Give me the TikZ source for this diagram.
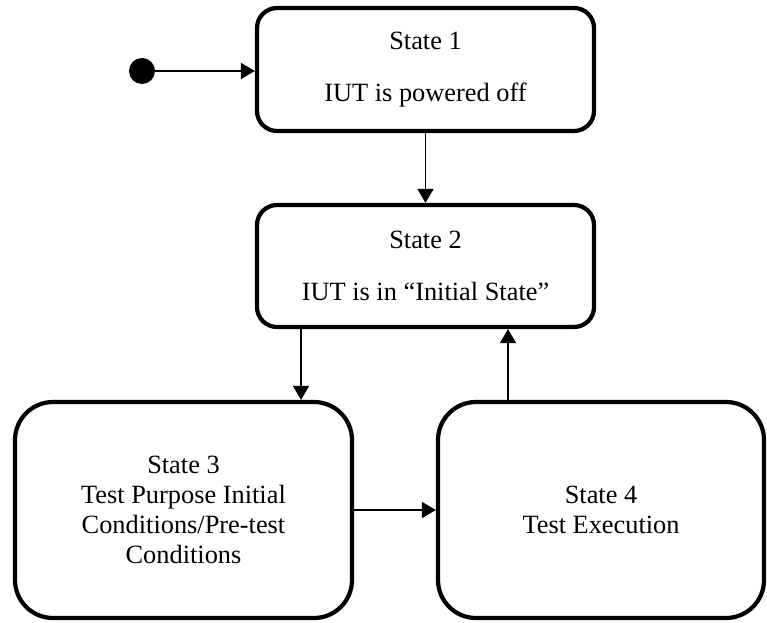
\documentclass[tikz,border=0pt]{standalone}
\usepackage{fontspec}
\setmainfont{Liberation Serif}
\usetikzlibrary{arrows.meta}
\begin{document}
\begin{tikzpicture}[
	state/.style={draw, line width=2.4pt, rounded corners=0.4cm, align=center, inner sep=0pt, font=\fontsize{15}{17}\selectfont},
	bigstate/.style={state, rounded corners=0.76cm},
	trans/.style={-{Triangle[length=0.28cm,width=0.32cm]}, line width=0.85pt}]
	\useasboundingbox (0,0) rectangle (15.34,12.44);
	\node[circle, fill, minimum size=0.52cm, inner sep=0pt] at (2.84,11.02) (init) {};
	\node[state, minimum width=6.74cm, minimum height=2.46cm] at (8.51,11.05) (s1) {State 1\\[13pt]IUT is powered off};
	\node[state, minimum width=6.74cm, minimum height=2.44cm] at (8.51,7.12) (s2) {State 2\\[13pt]IUT is in ``Initial State''};
	\node[bigstate, minimum width=6.74cm, minimum height=4.32cm] at (3.67,2.24) (s3) {State 3\\Test Purpose Initial\\Conditions/Pre-test\\Conditions};
	\node[bigstate, minimum width=6.52cm, minimum height=4.32cm] at (12.02,2.24) (s4) {State 4\\Test Execution};
	\coordinate (down) at (6.02,0);
	\coordinate (up) at (10.16,0);
	\draw[trans] (init) -- (init -| s1.west);
	\draw[trans] (s1) -- (s2);
	\draw[trans] (s2.south -| down) -- (s3.north -| down);
	\draw[trans] (s3) -- (s4);
	\draw[trans] (s4.north -| up) -- (s2.south -| up);
\end{tikzpicture}
\end{document}
